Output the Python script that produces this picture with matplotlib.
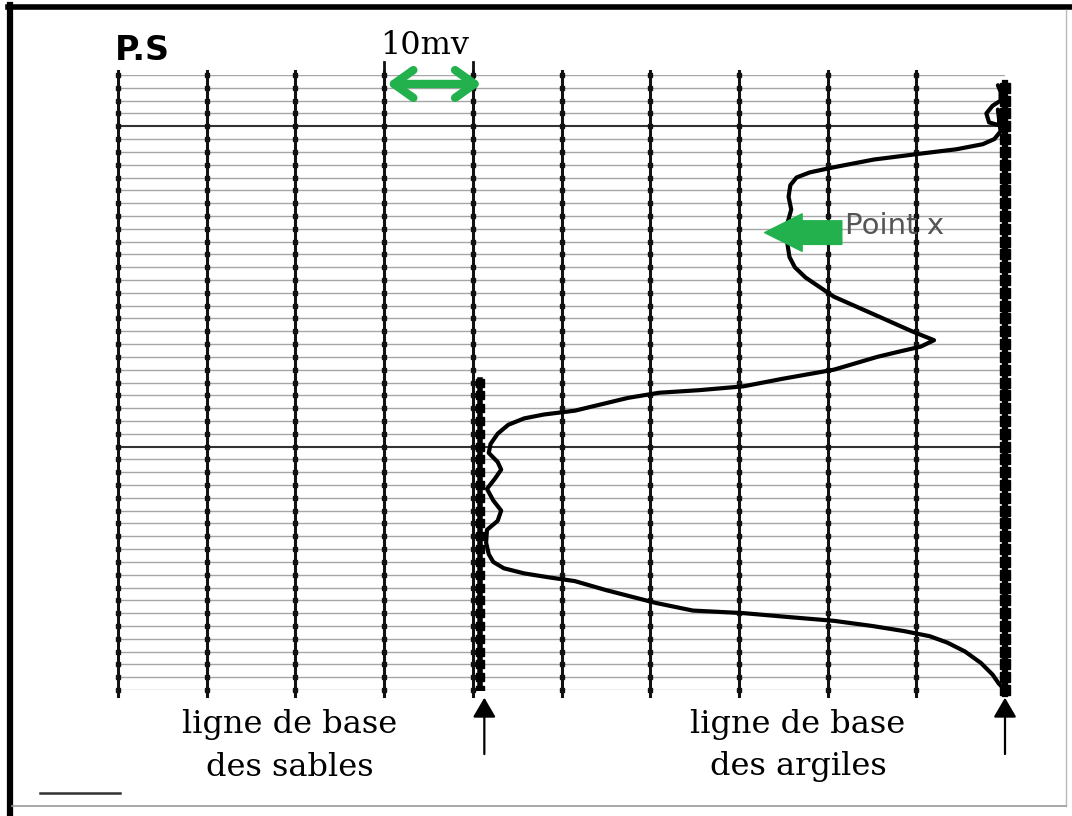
import matplotlib.pyplot as plt
from matplotlib.lines import Line2D

# PS (spontaneous potential) log, x in mV (10 mV per division), depth in grid rows
sp_mv = [99.2, 99.5, 99.5, 98.6, 97.9, 98.2, 99.2, 99.6, 99.2, 99.5, 98.8, 97.5,
         94.5, 90.9, 85.2, 80.7, 78.0, 76.5, 75.8, 75.6, 75.9, 75.5, 75.3, 75.5,
         75.7, 76.3, 77.5, 80.7, 85.6, 89.5, 92.0, 90.5, 88.0, 85.6, 80.7, 75.0,
         70.5, 65.5, 61.0, 57.5, 54.5, 51.5, 48.0, 45.8, 44.0, 42.8, 42.0, 41.8,
         42.8, 43.2, 42.5, 41.6, 42.3, 43.2, 42.8, 41.6, 41.5, 41.8, 42.3, 43.5,
         45.8, 48.5, 51.5, 55.0, 60.6, 64.8, 70.5, 75.5, 80.7, 85.0, 88.6, 91.5,
         93.5, 95.5, 97.3, 98.6, 99.3, 100.0]
depth = [0.8, 1.3, 2.0, 2.4, 3.0, 3.7, 3.9, 3.3, 2.7, 4.4, 5.0, 5.4,
         5.8, 6.1, 6.6, 7.2, 7.6, 8.0, 8.6, 9.5, 10.5, 11.5, 12.3, 13.3,
         14.2, 15.0, 15.8, 17.3, 18.8, 20.0, 20.7, 21.2, 21.6, 22.0, 23.0, 23.7,
         24.3, 24.6, 24.8, 25.2, 25.7, 26.2, 26.5, 26.8, 27.3, 28.0, 28.8, 29.5,
         30.2, 30.8, 31.5, 32.3, 33.2, 34.0, 34.8, 35.5, 36.5, 37.4, 38.0, 38.5,
         38.9, 39.2, 39.5, 40.2, 41.2, 41.8, 42.0, 42.3, 42.6, 43.0, 43.4, 43.8,
         44.3, 45.0, 45.9, 46.8, 47.5, 48.0]

mv_lines = [0, 10, 20, 30, 40, 50, 60, 70, 80, 90, 100]
n_rows = 48
heavy_rows = [4, 29]
sand_base = 40.8
shale_base = 100
point_x = (72.9, 12.3)

green = '#22b14c'

fig = plt.figure(figsize=(10.72, 8.16), dpi=100)
W, H = 1072, 816
ax = fig.add_axes([118 / W, 1 - 690 / H, 887 / W, 615 / H])
ax.set_xlim(0, 100)
ax.set_ylim(n_rows, 0)
ax.axis('off')

# horizontal grid
for r in range(n_rows + 1):
    if r in heavy_rows:
        ax.plot([0, 100], [r, r], color='#333333', lw=1.5, zorder=1)
    else:
        ax.plot([0, 100], [r, r], color='#909090', lw=1.0, alpha=0.8, zorder=1)

# vertical grid with beads at each row
rows = list(range(n_rows + 1))
for v in mv_lines[:-1]:
    ax.plot([v, v], [-0.3, n_rows + 0.5], color='#111111', lw=2.2, clip_on=False, zorder=2)
    ax.plot([v] * len(rows), rows, 's', color='#111111', ms=3, clip_on=False, zorder=2)
ax.plot([30, 30], [-1.0, 0], color='#111111', lw=2, clip_on=False)
ax.plot([40, 40], [-1.0, 0], color='#111111', lw=2, clip_on=False)

# base lines (thick, beaded)
ax.plot([sand_base, sand_base], [23.8, n_rows + 0.3], color='black', lw=4, zorder=3)
ax.plot([sand_base] * 25, list(range(24, 49)), 's', color='black', ms=6, zorder=3)
ax.plot([shale_base, shale_base], [0.6, n_rows + 0.3], color='black', lw=4.5,
        clip_on=False, zorder=3)
ax.plot([shale_base] * 48, list(range(1, 49)), 's', color='black', ms=6.5,
        clip_on=False, zorder=3)

# SP curve
ax.plot(sp_mv, depth, color='black', lw=3, solid_capstyle='round', solid_joinstyle='round',
        clip_on=False, zorder=4)

# 10 mv scale arrow
ax.annotate('', xy=(30.3, 0.7), xytext=(41.0, 0.7),
            arrowprops=dict(arrowstyle='<->,head_length=0.7,head_width=0.5', color=green,
                            lw=6, shrinkA=0, shrinkB=0, mutation_scale=20),
            annotation_clip=False, zorder=6)

# Point x arrow
ax.annotate('', xy=point_x, xytext=(81.6, 12.3),
            arrowprops=dict(arrowstyle='simple,head_length=1.35,head_width=1.35,tail_width=0.85',
                            color=green, shrinkA=0, shrinkB=0, mutation_scale=20),
            annotation_clip=False, zorder=6)
fig.text(845 / W, 1 - 226 / H, 'Point x', fontsize=21, color='#555555',
         ha='left', va='center', family='DejaVu Sans')

# base line arrows
for xv in [41.3, 100]:
    ax.annotate('', xy=(xv, 48.6), xytext=(xv, 53.0),
                arrowprops=dict(arrowstyle='-|>,head_length=0.6,head_width=0.35', color='black',
                                lw=1.6, shrinkA=0, shrinkB=0, mutation_scale=20),
                annotation_clip=False)

# titles and labels
fig.text(115 / W, 1 - 50 / H, 'P.S', fontsize=24, fontweight='bold', ha='left', va='center',
         family='DejaVu Sans')
fig.text(425 / W, 1 - 45 / H, '10mv', fontsize=23, ha='center', va='center', family='DejaVu Serif')
fig.text(290 / W, 1 - 724 / H, 'ligne de base', fontsize=23, ha='center', va='center',
         family='DejaVu Serif')
fig.text(290 / W, 1 - 767 / H, 'des sables', fontsize=23, ha='center', va='center',
         family='DejaVu Serif')
fig.text(798 / W, 1 - 724 / H, 'ligne de base', fontsize=23, ha='center', va='center',
         family='DejaVu Serif')
fig.text(798 / W, 1 - 767 / H, 'des argiles', fontsize=23, ha='center', va='center',
         family='DejaVu Serif')

# frame and small mark
fig.add_artist(Line2D([10 / W, 10 / W], [0, 1 - 5 / H], color='black', lw=4.5))
fig.add_artist(Line2D([8 / W, 1], [1 - 7 / H, 1 - 7 / H], color='black', lw=4))
fig.add_artist(Line2D([1066 / W, 1066 / W], [1 - 806 / H, 1 - 10 / H], color='#bbbbbb', lw=1))
fig.add_artist(Line2D([12 / W, 1066 / W], [1 - 806 / H, 1 - 806 / H], color='#999999', lw=1.2))
fig.add_artist(Line2D([40 / W, 120 / W], [1 - 793 / H, 1 - 793 / H], color='#333333', lw=1.8))

fig.savefig('out.png', dpi=100)
